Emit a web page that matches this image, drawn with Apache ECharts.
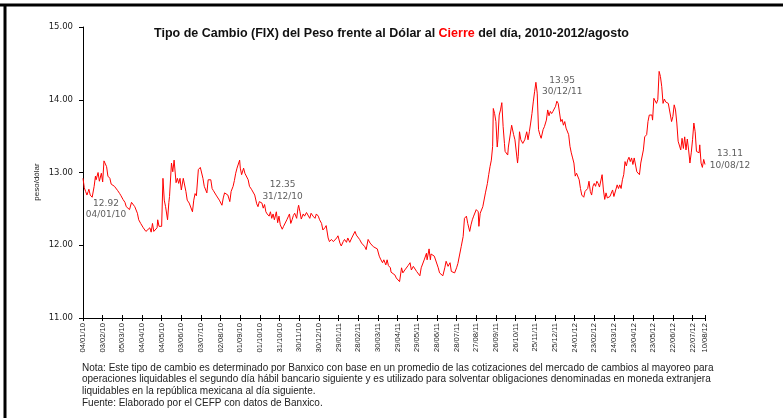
<!DOCTYPE html>
<html>
<head>
<meta charset="utf-8">
<script src="https://cdn.jsdelivr.net/npm/echarts@6/dist/echarts.min.js"></script>
<style>
  html, body { margin: 0; padding: 0; background: #fff; }
  #chart { width: 783px; height: 418px; }
</style>
</head>
<body>
<div id="chart"></div>
<script>
  // dias transcurridos desde el 04/01/2010 (fecha de inicio del eje)
  let dias = [
    0, 2, 4, 6, 8, 9, 11, 14, 17, 19,
    20, 23, 25, 28, 30, 32, 34, 36, 38, 41,
    43, 46, 48, 51, 53, 56, 58, 61, 64, 66,
    69, 71, 74, 76, 79, 81, 83, 85, 88, 92,
    96, 99, 102, 104, 106, 108, 111, 113, 114, 116,
    120, 122, 124, 126, 129, 131, 132, 134, 135, 137,
    139, 141, 142, 144, 146, 148, 150, 153, 154, 157,
    159, 162, 164, 167, 169, 171, 173, 175, 176, 179,
    181, 183, 185, 187, 189, 191, 193, 195, 197, 199,
    201, 203, 206, 208, 210, 212, 214, 216, 219, 221,
    224, 226, 229, 231, 233, 235, 237, 239, 240, 242,
    243, 245, 247, 249, 252, 254, 257, 259, 262, 265,
    267, 269, 271, 273, 275, 277, 279, 281, 284, 286,
    288, 290, 292, 295, 297, 299, 301, 304, 306, 309,
    311, 313, 315, 317, 319, 321, 323, 326, 328, 329,
    331, 333, 336, 338, 341, 343, 346, 348, 351, 354,
    356, 359, 361, 364, 366, 369, 371, 374, 376, 379,
    382, 384, 387, 389, 392, 394, 397, 399, 402, 404,
    407, 410, 412, 415, 417, 420, 422, 425, 427, 430,
    432, 435, 436, 438, 441, 443, 446, 449, 452, 454,
    457, 459, 462, 464, 466, 469, 470, 473, 476, 478, 481, 483,
    486, 488, 491, 493, 496, 499, 501, 504, 506, 509,
    511, 514, 516, 519, 521, 524, 525, 528, 530, 531,
    534, 536, 539, 542, 544, 547, 549, 552, 554, 557,
    560, 562, 565, 567, 570, 572, 575, 577, 580, 582,
    585, 587, 590, 592, 594, 596, 598, 600, 603, 604,
    606, 608, 610, 612, 614, 617, 619, 621, 623, 625,
    626, 628, 630, 632, 633, 635, 637, 639, 641, 643,
    644, 646, 648, 649, 651, 654, 655, 657, 659, 661,
    663, 664, 666, 668, 670, 671, 674, 677, 679, 681,
    683, 685, 687, 689, 691, 693, 695, 697, 699, 702,
    704, 707, 709, 711, 713, 715, 717, 719, 721, 723,
    725, 727, 729, 731, 733, 735, 737, 739, 741, 743,
    745, 747, 749, 751, 753, 755, 757, 759, 761, 764,
    766, 768, 770, 772, 774, 776, 778, 780, 782, 784,
    786, 788, 790, 792, 794, 796, 798, 800, 802, 804,
    806, 808, 810, 812, 815, 817, 819, 821, 823, 825,
    827, 829, 831, 833, 835, 837, 839, 841, 843, 845,
    847, 849, 851, 853, 855, 857, 860, 862, 864, 866,
    868, 869, 871, 873, 875, 877, 879, 881, 883, 885,
    887, 889, 891, 893, 895, 898, 900, 902, 904, 906,
    908, 910, 912, 914, 916, 918, 920, 922, 924, 926,
    928, 930, 932, 934, 936, 938, 940, 941, 943, 945, 947, 949
  ]

  // tipo de cambio FIX, pesos por dolar
  let tipoCambio = [
    12.92, 12.79, 12.74, 12.69, 12.74, 12.77, 12.69, 12.66, 12.81, 12.95,
    12.90, 13.00, 12.88, 12.99, 12.87, 13.16, 13.17, 13.08, 12.95, 12.92,
    12.84, 12.86, 12.81, 12.82, 12.75, 12.71, 12.68, 12.63, 12.59, 12.53,
    12.55, 12.49, 12.59, 12.57, 12.53, 12.51, 12.44, 12.35, 12.30, 12.24,
    12.19, 12.20, 12.24, 12.18, 12.30, 12.19, 12.17, 12.24, 12.35, 12.26,
    12.26, 12.92, 12.62, 12.53, 12.35, 12.59, 12.67, 12.69, 13.13, 13.01,
    13.17, 13.18, 12.86, 12.92, 12.85, 12.92, 12.76, 12.92, 12.92, 12.74,
    12.62, 12.58, 12.57, 12.46, 12.62, 12.71, 12.68, 12.67, 13.04, 13.07,
    13.09, 12.92, 12.81, 12.81, 12.72, 12.90, 12.91, 12.90, 12.78, 12.75,
    12.76, 12.69, 12.67, 12.62, 12.60, 12.55, 12.65, 12.72, 12.74, 12.69,
    12.60, 12.74, 12.81, 12.89, 12.99, 13.06, 13.08, 13.17, 13.06, 12.97,
    12.95, 13.06, 12.99, 12.97, 12.90, 12.81, 12.77, 12.76, 12.69, 12.57,
    12.53, 12.60, 12.58, 12.58, 12.51, 12.56, 12.46, 12.43, 12.40, 12.46,
    12.37, 12.43, 12.35, 12.46, 12.31, 12.40, 12.28, 12.22, 12.26, 12.28,
    12.35, 12.39, 12.43, 12.30, 12.35, 12.41, 12.44, 12.37, 12.51, 12.55,
    12.46, 12.36, 12.43, 12.40, 12.45, 12.43, 12.37, 12.44, 12.40, 12.37,
    12.43, 12.40, 12.35, 12.30, 12.21, 12.24, 12.27, 12.10, 12.05, 12.08,
    12.05, 12.04, 12.10, 12.13, 12.03, 11.99, 12.05, 12.08, 12.04, 12.10,
    12.04, 12.10, 12.08, 12.19, 12.14, 12.12, 12.08, 12.03, 12.01, 11.98,
    11.94, 12.08, 12.08, 12.03, 12.01, 11.98, 11.96, 11.95, 11.85, 11.81,
    11.76, 11.80, 11.73, 11.80, 11.72, 11.69, 11.63, 11.62, 11.59, 11.55, 11.53, 11.50,
    11.69, 11.62, 11.66, 11.64, 11.72, 11.76, 11.66, 11.71, 11.69, 11.64,
    11.62, 11.58, 11.69, 11.71, 11.81, 11.89, 11.80, 11.95, 11.80, 11.88,
    11.89, 11.85, 11.85, 11.69, 11.62, 11.64, 11.58, 11.69, 11.78, 11.71,
    11.76, 11.64, 11.66, 11.62, 11.69, 11.75, 11.76, 11.98, 12.12, 12.37,
    12.40, 12.30, 12.19, 12.28, 12.35, 12.40, 12.42, 12.49, 12.46, 12.26,
    12.44, 12.46, 12.53, 12.51, 12.72, 12.85, 12.97, 13.08, 13.17, 13.36,
    13.88, 13.81, 13.70, 13.35, 13.45, 13.79, 13.86, 13.96, 13.63, 13.40,
    13.29, 13.31, 13.24, 13.35, 13.33, 13.65, 13.63, 13.52, 13.45, 13.47,
    13.13, 13.22, 13.56, 13.45, 13.47, 13.40, 13.45, 13.56, 13.45, 13.56,
    13.68, 13.81, 13.97, 14.11, 14.24, 14.09, 13.59, 13.52, 13.47, 13.59,
    13.63, 13.72, 13.86, 13.78, 13.84, 13.81, 13.84, 13.86, 13.91, 13.98,
    13.95, 13.94, 13.70, 13.73, 13.65, 13.70, 13.61, 13.59, 13.52, 13.36,
    13.27, 13.20, 13.13, 12.95, 12.99, 13.01, 12.90, 12.78, 12.69, 12.66,
    12.74, 12.76, 12.78, 12.88, 12.74, 12.69, 12.81, 12.85, 12.81, 12.88,
    12.85, 12.80, 12.78, 12.97, 12.76, 12.63, 12.72, 12.65, 12.67, 12.67,
    12.69, 12.76, 12.67, 12.69, 12.83, 12.78, 12.83, 12.78, 12.90, 12.97,
    13.15, 13.09, 13.17, 13.21, 13.15, 13.20, 13.11, 13.20, 13.21, 13.01,
    12.99, 12.97, 13.13, 13.15, 13.31, 13.49, 13.52, 13.70, 13.79, 13.81,
    13.79, 13.72, 14.02, 14.01, 13.95, 14.00, 14.39, 14.32, 14.18, 13.95,
    14.01, 13.97, 13.97, 13.95, 13.96, 13.70, 13.77, 13.93, 13.86, 13.68,
    13.43, 13.41, 13.31, 13.47, 13.33, 13.49, 13.31, 13.46, 13.31, 13.13,
    13.27, 13.45, 13.68, 13.56, 13.29, 13.27, 13.27, 13.38, 13.13, 13.07, 13.18, 13.11
  ]

  // etiquetas del eje horizontal, una cada 30 dias mas la fecha final
  let etiquetasX = [
    '04/01/10', '03/02/10', '05/03/10', '04/04/10', '04/05/10', '03/06/10', '03/07/10',
    '02/08/10', '01/09/10', '01/10/10', '31/10/10', '30/11/10', '30/12/10', '29/01/11',
    '28/02/11', '30/03/11', '29/04/11', '29/05/11', '28/06/11', '28/07/11', '27/08/11',
    '26/09/11', '26/10/11', '25/11/11', '25/12/11', '24/01/12', '23/02/12', '24/03/12',
    '23/04/12', '23/05/12', '22/06/12', '22/07/12', '10/08/12'
  ]
  let etiquetasY = ['11.00', '12.00', '13.00', '14.00', '15.00']

  // puntos anotados
  let anotDias = [0, 361, 725, 949]
  let anotValores = [12.92, 12.35, 13.95, 13.11]
  let anotFechas = ['04/01/10', '31/12/10', '30/12/11', '10/08/12']

  let notas = [
    'Nota: Este tipo de cambio es determinado por Banxico con base en un promedio de las cotizaciones del mercado de cambios al mayoreo para',
    'operaciones liquidables el segundo día hábil bancario siguiente y es utilizado para solventar obligaciones denominadas en moneda extranjera',
    'liquidables en la república mexicana al día siguiente.',
    'Fuente: Elaborado por el CEFP con datos de Banxico.'
  ]

  let chart = echarts.init(document.getElementById('chart'))

  let serie = dias.map((d, i) => [d, tipoCambio[i]])
  let desplaz = [[23, 31], [-37, -29], [4, -17], [25, -5]]
  let anotData = anotDias.map((d, i) => ({
    value: [d, anotValores[i]],
    label: { offset: desplaz[i] }
  }))

  let ultimoDia = dias[dias.length - 1]
  let fmtX = v => (v % 30 === 0 ? etiquetasX[v / 30] : etiquetasX[etiquetasX.length - 1])

  let notaGraficos = notas.map((t, i) => ({
    type: 'text',
    left: 82,
    top: 363 + i * 11.7,
    style: { text: t, fill: '#222', font: '10px "Liberation Sans", Arial, sans-serif' }
  }))

  let option = {
    animation: false,
    title: {
      left: 'center',
      top: 22,
      text: '{a|Tipo de Cambio (FIX) del Peso frente al Dólar al }{r|Cierre}{a| del día, 2010-2012/agosto}',
      textStyle: {
        rich: {
          a: { fontFamily: 'Liberation Sans', fontWeight: 'bold', fontSize: 12.5, color: '#111' },
          r: { fontFamily: 'Liberation Sans', fontWeight: 'bold', fontSize: 12.5, color: '#ff0000' }
        }
      }
    },
    grid: { left: 83, right: 78, top: 27, bottom: 100, containLabel: false },
    xAxis: [
      {
        type: 'value',
        min: 0,
        max: ultimoDia,
        interval: 30,
        splitLine: { show: false },
        axisLine: { lineStyle: { color: '#000', width: 1 } },
        axisTick: { length: 3, lineStyle: { color: '#000' } },
        axisLabel: {
          rotate: 90,
          margin: 5,
          color: '#222',
          fontFamily: 'Liberation Sans',
          fontSize: 7.6,
          formatter: fmtX
        }
      },
      {
        type: 'value',
        min: 0,
        max: ultimoDia,
        interval: 30,
        position: 'bottom',
        splitLine: { show: false },
        axisLine: { show: false },
        axisTick: { inside: true, length: 3, lineStyle: { color: '#000' } },
        axisLabel: { show: false }
      }
    ],
    yAxis: {
      type: 'value',
      min: 11,
      max: 15,
      interval: 1,
      splitLine: { show: false },
      axisLine: { show: true, lineStyle: { color: '#000', width: 1 } },
      axisTick: { show: true, length: 4, lineStyle: { color: '#000' } },
      axisLabel: {
        margin: 10,
        color: '#222',
        fontFamily: 'DejaVu Sans',
        fontSize: 8.5,
        formatter: v => etiquetasY[Math.round(v - 11)]
      }
    },
    series: [
      {
        name: 'FIX',
        type: 'line',
        data: serie,
        showSymbol: false,
        symbol: 'none',
        lineStyle: { color: '#ff0000', width: 1 },
        itemStyle: { color: '#ff0000' },
        z: 3
      },
      {
        name: 'anotaciones',
        type: 'scatter',
        data: anotData,
        symbolSize: 1,
        itemStyle: { color: 'rgba(0,0,0,0)' },
        label: {
          show: true,
          position: 'inside',
          align: 'center',
          verticalAlign: 'middle',
          lineHeight: 11.5,
          fontFamily: 'DejaVu Sans',
          fontSize: 9,
          color: '#333',
          formatter: p => anotValores[p.dataIndex].toFixed(2) + '\n' + anotFechas[p.dataIndex]
        },
        z: 4
      }
    ],
    graphic: [
      {
        type: 'line',
        shape: { x1: 0, y1: 5, x2: 783, y2: 5 },
        style: { stroke: '#000', lineWidth: 3 }
      },
      {
        type: 'line',
        shape: { x1: 5, y1: 5, x2: 5, y2: 418 },
        style: { stroke: '#000', lineWidth: 3 }
      },
      {
        type: 'text',
        x: 37,
        y: 182,
        rotation: Math.PI / 2,
        style: {
          text: 'peso/dólar',
          fill: '#222',
          font: '8px "Liberation Sans", Arial, sans-serif',
          textAlign: 'center',
          textVerticalAlign: 'middle'
        }
      }
    ].concat(notaGraficos)
  }
  chart.setOption(option)
</script>
</body>
</html>
